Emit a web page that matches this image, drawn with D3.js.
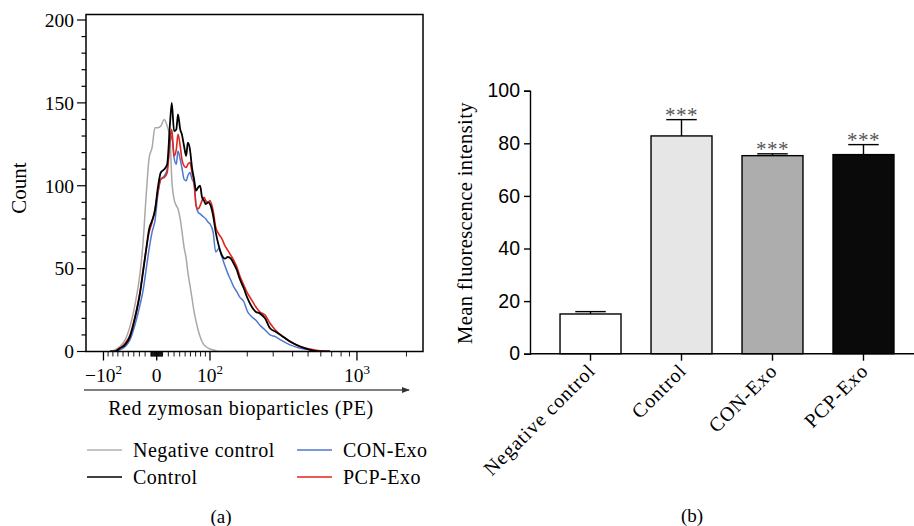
<!DOCTYPE html>
<html>
<head>
<meta charset="utf-8">
<script src="https://cdn.jsdelivr.net/npm/d3@7"></script>
<style>
  body { margin: 0; background: #fff; }
  svg { font-family: "Liberation Serif", "DejaVu Serif", serif; }
</style>
</head>
<body>
<svg id="chart" width="914" height="526"></svg>
<script>
// flow cytometry histogram (a)
const fluorescence = [-86, -76, -66, -56, -47, -38, -29, -24, -18, -13, -8, -3, 2, 7, 13, 18, 23, 26, 30, 34,
  37, 41, 44, 48, 52, 55, 59, 63, 67, 71, 75, 79, 83, 87, 91, 96, 100, 107, 113, 120,
  128, 135, 143, 151, 159, 168, 176, 189, 201, 215, 229, 244, 265, 286, 310, 335, 385, 446, 515, 593, 684]
const negativeCount = [0, 1, 3, 7, 15, 28, 47, 64, 95, 117, 123, 135, 135, 136, 140, 136, 128, 104, 92, 88,
  86, 80, 73, 63, 56, 48, 40, 32, 24, 18, 13, 9, 6, 4, 3, 2, 1.5, 1, 0.5, 0,
  0, 0, 0, 0, 0, 0, 0, 0, 0, 0, 0, 0, 0, 0, 0, 0, 0, 0, 0, 0, 0]
const controlCount = [0, 0, 2, 4, 9, 20, 35, 47, 62, 74, 79, 85, 99, 108, 110, 113, 138, 150, 133, 134,
  143, 134, 131, 124, 118, 126, 122, 111, 104, 97, 99, 100, 93, 91, 89, 90, 89, 82, 72, 64,
  58, 56, 57, 56, 53, 49, 44, 38, 32, 27, 24, 23, 20, 14, 12, 10, 6, 3, 1, 0, 0]
const conExoCount = [0, 0, 1, 3, 7, 16, 28, 36, 50, 62, 72, 79, 95, 104, 106, 110, 126, 130, 117, 113,
  121, 116, 111, 104, 103, 106, 108, 104, 101, 88, 84, 83, 82, 81, 80, 78, 77, 72, 60, 62,
  57, 52, 47, 43, 39, 36, 33, 30, 24, 21, 19, 16, 13, 10, 9, 7, 4, 2, 1, 0, 0]
const pcpExoCount = [0, 0, 2, 5, 10, 21, 36, 48, 62, 72, 78, 86, 96, 104, 105, 108, 128, 134, 118, 122,
  131, 124, 116, 112, 111, 113, 114, 108, 102, 88, 86, 88, 91, 93, 91, 90, 91, 85, 75, 71,
  68, 64, 61, 58, 55, 51, 46, 40, 35, 31, 27, 24, 22, 17, 13, 10, 6, 3, 1.5, 0.5, 0]

const majorTicks = [-100, 0, 100, 1000]
const majorLabels = ["\u221210", "0", "10", "10"]
const majorExp = ["2", "", "2", "3"]
const minorTicks = [-90, -80, -70, -60, -50, -40, -30, -20, -10, -9, -8, -7, -6, -5, -4, -3, -2, -1,
  1, 2, 3, 4, 5, 6, 7, 8, 9, 10, 20, 30, 40, 50, 60, 70, 80, 90,
  200, 300, 400, 500, 600, 700, 800, 900, 2000]

// mean fluorescence intensity (b)
const groups = ["Negative control", "Control", "CON-Exo", "PCP-Exo"]
const mfi = [15.1, 82.8, 75.3, 75.7]
const mfiErr = [0.9, 6.2, 0.7, 3.8]
const significance = ["", "***", "***", "***"]

const svg = d3.select("#chart")

// ---------- panel (a) ----------
const box = { left: 86, right: 423, top: 14.5, bottom: 351.5 }
const c = 123
const xT = d3.scaleLinear()
  .domain([Math.asinh(-142 / c), Math.asinh(2520 / c)])
  .range([box.left, box.right])
const x = v => xT(Math.asinh(v / c))
const y = d3.scaleLinear().domain([0, 200]).range([box.bottom, 20])

svg.append("clipPath").attr("id", "clipA")
  .append("rect")
  .attr("x", box.left).attr("y", box.top)
  .attr("width", box.right - box.left).attr("height", box.bottom - box.top)

const line = d3.line()
  .x(d => x(d[0]))
  .y(d => y(d[1]))
  .curve(d3.curveMonotoneX)

const series = [
  { name: "Negative control", counts: negativeCount, color: "#a8a8a8", width: 1.5 },
  { name: "CON-Exo", counts: conExoCount, color: "#4f77cf", width: 1.5 },
  { name: "PCP-Exo", counts: pcpExoCount, color: "#e0261e", width: 1.6 },
  { name: "Control", counts: controlCount, color: "#000", width: 1.8 }
]

svg.append("g").attr("clip-path", "url(#clipA)")
  .selectAll("path")
  .data(series)
  .join("path")
  .attr("fill", "none")
  .attr("stroke", d => d.color)
  .attr("stroke-width", d => d.width)
  .attr("stroke-linejoin", "round")
  .attr("d", d => line(fluorescence.map((f, i) => [f, d.counts[i]])))

svg.append("rect")
  .attr("x", box.left).attr("y", box.top)
  .attr("width", box.right - box.left).attr("height", box.bottom - box.top)
  .attr("fill", "none").attr("stroke", "#000").attr("stroke-width", 1.5)

// y axis of histogram
const yAxis = svg.append("g").attr("transform", `translate(${box.left},0)`)
yAxis.selectAll("line")
  .data(d3.range(0, 201, 10))
  .join("line")
  .attr("x1", d => d % 50 === 0 ? -9 : -4.5).attr("x2", 0)
  .attr("y1", d => y(d)).attr("y2", d => y(d))
  .attr("stroke", "#000").attr("stroke-width", 1.2)
yAxis.selectAll("text")
  .data([0, 50, 100, 150, 200])
  .join("text")
  .attr("x", -12).attr("y", d => y(d)).attr("dy", "0.35em")
  .attr("text-anchor", "end").attr("font-size", 19.5)
  .text(d => d)

svg.append("text")
  .attr("transform", `translate(26,188) rotate(-90)`)
  .attr("text-anchor", "middle").attr("font-size", 21)
  .text("Count")

// x axis of histogram (biexponential display)
const xAxis = svg.append("g").attr("transform", `translate(0,${box.bottom})`)
xAxis.selectAll("line.minor")
  .data(minorTicks)
  .join("line").attr("class", "minor")
  .attr("x1", d => x(d)).attr("x2", d => x(d))
  .attr("y1", 0).attr("y2", 5)
  .attr("stroke", "#000").attr("stroke-width", 0.9)
xAxis.selectAll("line.major")
  .data(majorTicks)
  .join("line").attr("class", "major")
  .attr("x1", d => x(d)).attr("x2", d => x(d))
  .attr("y1", 0).attr("y2", 9)
  .attr("stroke", "#000").attr("stroke-width", 1.3)
const xl = xAxis.selectAll("text")
  .data(majorTicks)
  .join("text")
  .attr("x", d => x(d)).attr("y", 30)
  .attr("text-anchor", "middle").attr("font-size", 19.5)
xl.append("tspan").text((d, i) => majorLabels[i])
xl.append("tspan").attr("dy", -8).attr("font-size", 13).text((d, i) => majorExp[i])

svg.append("defs").append("marker")
  .attr("id", "arrow").attr("viewBox", "0 0 10 10")
  .attr("refX", 9).attr("refY", 5)
  .attr("markerWidth", 8).attr("markerHeight", 8)
  .attr("markerUnits", "userSpaceOnUse")
  .attr("orient", "auto")
  .append("path").attr("d", "M0,1 L10,5 L0,9 Z").attr("fill", "#333")
svg.append("line")
  .attr("x1", 84).attr("x2", 409).attr("y1", 390).attr("y2", 390)
  .attr("stroke", "#555").attr("stroke-width", 1.5)
  .attr("marker-end", "url(#arrow)")
svg.append("text")
  .attr("x", 241).attr("y", 415)
  .attr("text-anchor", "middle").attr("font-size", 20).attr("letter-spacing", 0.6)
  .text("Red zymosan bioparticles (PE)")

// legend
const legendItems = [
  { name: "Negative control", color: "#b0b0b0", col: 0, row: 0 },
  { name: "Control", color: "#000", col: 0, row: 1 },
  { name: "CON-Exo", color: "#4f77cf", col: 1, row: 0 },
  { name: "PCP-Exo", color: "#e0261e", col: 1, row: 1 }
]
const leg = svg.append("g").selectAll("g")
  .data(legendItems)
  .join("g")
  .attr("transform", d => `translate(${87 + d.col * 210},${450 + d.row * 27})`)
leg.append("line").attr("x1", 0).attr("x2", 35)
  .attr("stroke", d => d.color).attr("stroke-width", 1.6)
leg.append("text").attr("x", 46).attr("dy", "0.35em")
  .attr("font-size", 20).attr("letter-spacing", 0.5).text(d => d.name)

svg.append("text").attr("x", 221).attr("y", 516).attr("dy", "0.35em")
  .attr("text-anchor", "middle").attr("font-size", 19).text("(a)")

// ---------- panel (b) ----------
const bx = d3.scaleBand().domain(groups).range([530, 924]).paddingInner(0.33).paddingOuter(0.33)
const by = d3.scaleLinear().domain([0, 100]).range([353.7, 90.7])
const barFill = ["#ffffff", "#e6e6e6", "#adadad", "#0a0a0a"]

const gb = svg.append("g")
gb.append("g")
  .attr("transform", "translate(530,0)")
  .call(d3.axisLeft(by).tickValues([0, 20, 40, 60, 80, 100]).tickSize(6).tickPadding(4))
  .call(g => g.selectAll("text").attr("font-size", 19.5).attr("font-family", null))
  .call(g => g.selectAll("line,path").attr("stroke-width", 1.4))

gb.selectAll("rect.bar")
  .data(groups)
  .join("rect").attr("class", "bar")
  .attr("x", d => bx(d)).attr("width", bx.bandwidth())
  .attr("y", (d, i) => by(mfi[i])).attr("height", (d, i) => by(0) - by(mfi[i]))
  .attr("fill", (d, i) => barFill[i])
  .attr("stroke", "#000").attr("stroke-width", 1.4)

const err = gb.append("g").attr("stroke", "#000").attr("stroke-width", 1.4)
err.selectAll("line.v")
  .data(groups)
  .join("line").attr("class", "v")
  .attr("x1", d => bx(d) + bx.bandwidth() / 2).attr("x2", d => bx(d) + bx.bandwidth() / 2)
  .attr("y1", (d, i) => by(mfi[i])).attr("y2", (d, i) => by(mfi[i] + mfiErr[i]))
err.selectAll("line.cap")
  .data(groups)
  .join("line").attr("class", "cap")
  .attr("x1", d => bx(d) + bx.bandwidth() / 4).attr("x2", d => bx(d) + bx.bandwidth() * 3 / 4)
  .attr("y1", (d, i) => by(mfi[i] + mfiErr[i])).attr("y2", (d, i) => by(mfi[i] + mfiErr[i]))

gb.selectAll("text.sig")
  .data(groups)
  .join("text").attr("class", "sig")
  .attr("x", d => bx(d) + bx.bandwidth() / 2)
  .attr("y", (d, i) => by(mfi[i] + mfiErr[i]) + 2)
  .attr("text-anchor", "middle").attr("font-size", 21).attr("fill", "#555")
  .attr("letter-spacing", 0.5)
  .text((d, i) => significance[i])

gb.append("g")
  .attr("transform", "translate(0,353.7)")
  .call(d3.axisBottom(bx).tickSize(7).tickFormat(""))
  .call(g => g.selectAll("line,path").attr("stroke-width", 1.4))
  .call(g => g.select(".domain").attr("d", "M530,0H924"))

gb.selectAll("text.cat")
  .data(groups)
  .join("text").attr("class", "cat")
  .attr("transform", d => `translate(${bx(d) + bx.bandwidth() / 2 + 6},372) rotate(-45)`)
  .attr("text-anchor", "end").attr("font-size", 20).attr("letter-spacing", 0.9)
  .text(d => d)

svg.append("text")
  .attr("transform", "translate(472,223) rotate(-90)")
  .attr("text-anchor", "middle").attr("font-size", 20.5).attr("letter-spacing", 0.4)
  .text("Mean fluorescence intensity")

svg.append("text").attr("x", 692).attr("y", 515).attr("dy", "0.35em")
  .attr("text-anchor", "middle").attr("font-size", 19).text("(b)")
</script>
</body>
</html>
